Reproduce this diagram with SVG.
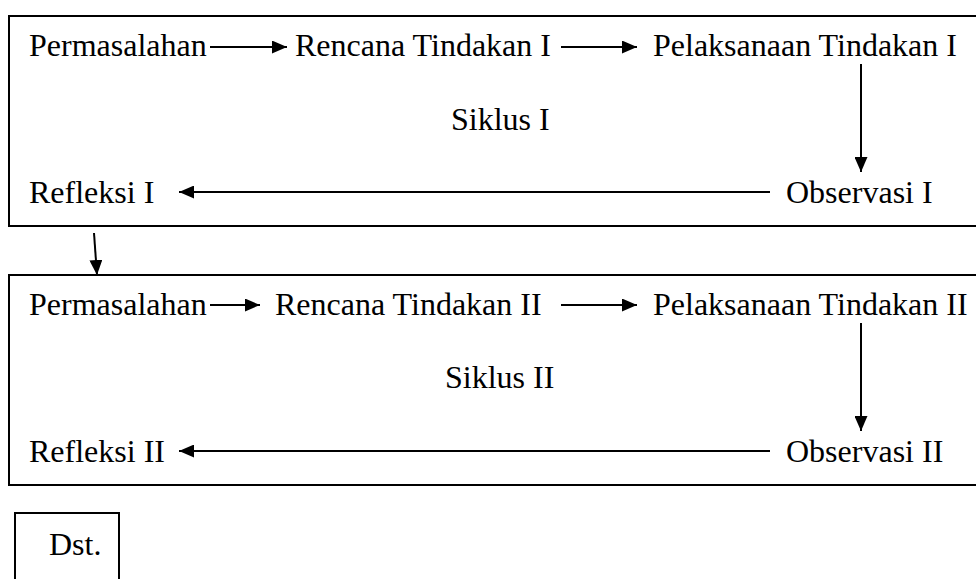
<svg xmlns="http://www.w3.org/2000/svg" width="976" height="579" viewBox="0 0 976 579">
<style>
text{font-family:"Liberation Serif","Times New Roman",serif;font-size:32px;fill:#000}
.box{fill:none;stroke:#000;stroke-width:2}
.ln{fill:none;stroke:#000;stroke-width:2}
</style>
<defs>
<marker id="ah" viewBox="0 0 15 13" refX="15" refY="6.5" markerWidth="15" markerHeight="13" markerUnits="userSpaceOnUse" orient="auto">
<path d="M0,0 L15,6.5 L0,13 Z" fill="#000"/>
</marker>
</defs>
<g id="siklus1">
<rect class="box" x="9" y="16" width="980" height="210"/>
<text x="29" y="56">Permasalahan</text>
<text x="295" y="56">Rencana Tindakan I</text>
<text x="653" y="56">Pelaksanaan Tindakan I</text>
<text x="451" y="130">Siklus I</text>
<text x="29" y="203">Refleksi I</text>
<text x="786" y="203">Observasi I</text>
</g>
<g id="siklus2">
<rect class="box" x="9" y="275" width="980" height="210"/>
<text x="29" y="315">Permasalahan</text>
<text x="275" y="315">Rencana Tindakan II</text>
<text x="653" y="315">Pelaksanaan Tindakan II</text>
<text x="445" y="388">Siklus II</text>
<text x="29" y="462">Refleksi II</text>
<text x="786" y="462">Observasi II</text>
</g>
<g id="dst">
<path class="box" d="M15,590 V513 H119 V590"/>
<text x="49" y="555">Dst.</text>
</g>
<g id="connectors">
<line class="ln" x1="210" y1="47" x2="287" y2="47" marker-end="url(#ah)"/>
<line class="ln" x1="561" y1="47" x2="637" y2="47" marker-end="url(#ah)"/>
<line class="ln" x1="861" y1="64" x2="861" y2="172" marker-end="url(#ah)"/>
<line class="ln" x1="770" y1="192" x2="179" y2="192" marker-end="url(#ah)"/>
<line class="ln" x1="94" y1="233" x2="97" y2="275" marker-end="url(#ah)"/>
<line class="ln" x1="210" y1="305" x2="260" y2="305" marker-end="url(#ah)"/>
<line class="ln" x1="561" y1="305" x2="637" y2="305" marker-end="url(#ah)"/>
<line class="ln" x1="861" y1="323" x2="861" y2="431" marker-end="url(#ah)"/>
<line class="ln" x1="770" y1="451" x2="179" y2="451" marker-end="url(#ah)"/>
</g>
</svg>
